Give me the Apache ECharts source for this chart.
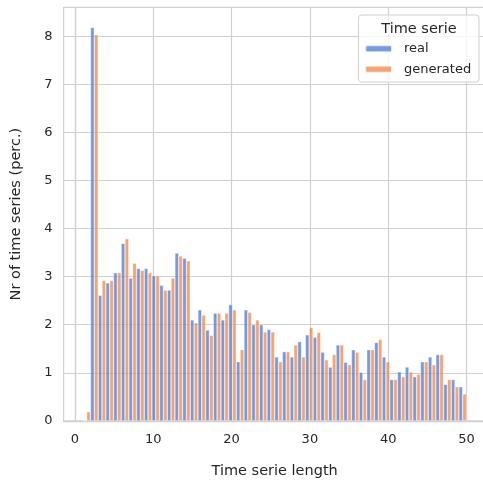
<!DOCTYPE html>
<html>
<head>
<meta charset="utf-8">
<script src="https://cdn.jsdelivr.net/npm/echarts@6/dist/echarts.min.js"></script>
<style>
  html, body { margin: 0; padding: 0; background: #fff; }
  #chart { width: 483px; height: 480px; }
</style>
</head>
<body>
<div id="chart"></div>
<script>
// histogram bins: 50 bins spanning [1, 50]
const binStart = 1;
const binWidth = 0.98;

// percentage of time series per length bin (1..50)
const realPerc = [
    0, 8.18, 2.61, 2.87, 3.08, 3.69, 2.97, 3.17, 3.17, 3.02,
    2.82, 2.72, 3.49, 3.38, 2.10, 2.31, 1.89, 2.24, 2.10, 2.42,
    1.23, 2.31, 2.00, 2.00, 1.90, 1.33, 1.44, 1.33, 1.65, 1.79,
    1.74, 1.43, 1.12, 1.58, 1.22, 1.48, 1.01, 1.48, 1.63, 1.33,
    0.86, 1.02, 1.12, 0.92, 1.23, 1.33, 1.38, 0.76, 0.86, 0.71
];
const generatedPerc = [
    0.19, 8.03, 2.92, 2.92, 3.08, 3.79, 3.28, 3.13, 3.08, 3.02,
    2.72, 2.97, 3.43, 3.33, 2.04, 2.20, 1.78, 2.24, 2.24, 2.31,
    1.48, 2.26, 2.10, 1.85, 1.85, 1.23, 1.44, 1.58, 1.33, 1.94,
    1.84, 1.27, 1.38, 1.58, 1.17, 1.43, 0.86, 1.48, 1.69, 1.23,
    0.86, 0.92, 1.02, 0.97, 1.23, 1.17, 1.38, 0.86, 0.71, 0.56
];
const xTicks = [0, 10, 20, 30, 40, 50];
const seriesNames = ['real', 'generated'];

const txt = '#262626';
const gridCol = '#d0d0d0';
const font = 'DejaVu Sans';

function toPoints(values) {
    let pts = [];
    for (let i = 0; i < values.length; i++) {
        pts.push([binStart + binWidth * (i + 0.5), values[i]]);
    }
    return pts;
}

const chart = echarts.init(document.getElementById('chart'));

chart.setOption({
    animation: false,
    grid: {
        left: 63.6,
        top: 7.3,
        width: 422.1,
        height: 413.6,
        outerBoundsMode: 'none',
        containLabel: false,
        show: true,
        borderColor: gridCol,
        borderWidth: 1.25
    },
    xAxis: {
        type: 'value',
        min: -1.45,
        max: 52.45,
        name: 'Time serie length',
        nameLocation: 'middle',
        nameGap: 43,
        nameTextStyle: { color: txt, fontSize: 14.5, fontFamily: font },
        axisLine: { show: true, lineStyle: { color: gridCol, width: 1.25 } },
        axisTick: { show: false, customValues: xTicks },
        axisLabel: {
            customValues: xTicks,
            color: txt, fontSize: 13, fontFamily: font, margin: 12
        },
        splitLine: { show: true, customValues: xTicks, lineStyle: { color: gridCol, width: 1.2 } }
    },
    yAxis: {
        type: 'value',
        min: 0,
        max: 8.6,
        interval: 1,
        name: 'Nr of time series (perc.)',
        nameLocation: 'middle',
        nameGap: 40,
        nameTextStyle: { color: txt, fontSize: 14.5, fontFamily: font },
        axisLine: { show: true, lineStyle: { color: gridCol, width: 1.25 } },
        axisTick: { show: false },
        axisLabel: {
            color: txt, fontSize: 13, fontFamily: font, margin: 11,
            showMaxLabel: false
        },
        splitLine: { show: true, lineStyle: { color: gridCol, width: 1.2 } }
    },
    legend: {
        orient: 'vertical',
        left: 364.3,
        top: 41.8,
        padding: 0,
        itemWidth: 26.7,
        itemHeight: 7,
        itemGap: 6.5,
        z: 10,
        data: seriesNames,
        textStyle: {
            color: txt, fontSize: 13, fontFamily: font, lineHeight: 14,
            padding: [0, 0, 0, 7]
        }
    },
    graphic: [
        {
            type: 'rect',
            z: 6,
            shape: { x: 358.5, y: 15, width: 120.5, height: 67, r: 3 },
            style: { fill: 'rgba(255,255,255,0.8)', stroke: '#d0d0d0', lineWidth: 1 }
        },
        {
            type: 'text',
            z: 7,
            x: 419,
            y: 28.8,
            style: {
                text: 'Time serie',
                fill: txt,
                font: '14.5px "DejaVu Sans"',
                align: 'center',
                verticalAlign: 'middle'
            }
        }
    ],
    series: [
        {
            name: seriesNames[0],
            type: 'bar',
            barGap: '0%',
            barCategoryGap: '0%',
            itemStyle: {
                color: '#4878d0',
                opacity: 0.75,
                borderColor: '#ffffff',
                borderWidth: 0.5
            },
            data: toPoints(realPerc)
        },
        {
            name: seriesNames[1],
            type: 'bar',
            barGap: '0%',
            barCategoryGap: '0%',
            itemStyle: {
                color: '#ee854a',
                opacity: 0.75,
                borderColor: '#ffffff',
                borderWidth: 0.5
            },
            data: toPoints(generatedPerc)
        }
    ]
});
</script>
</body>
</html>
